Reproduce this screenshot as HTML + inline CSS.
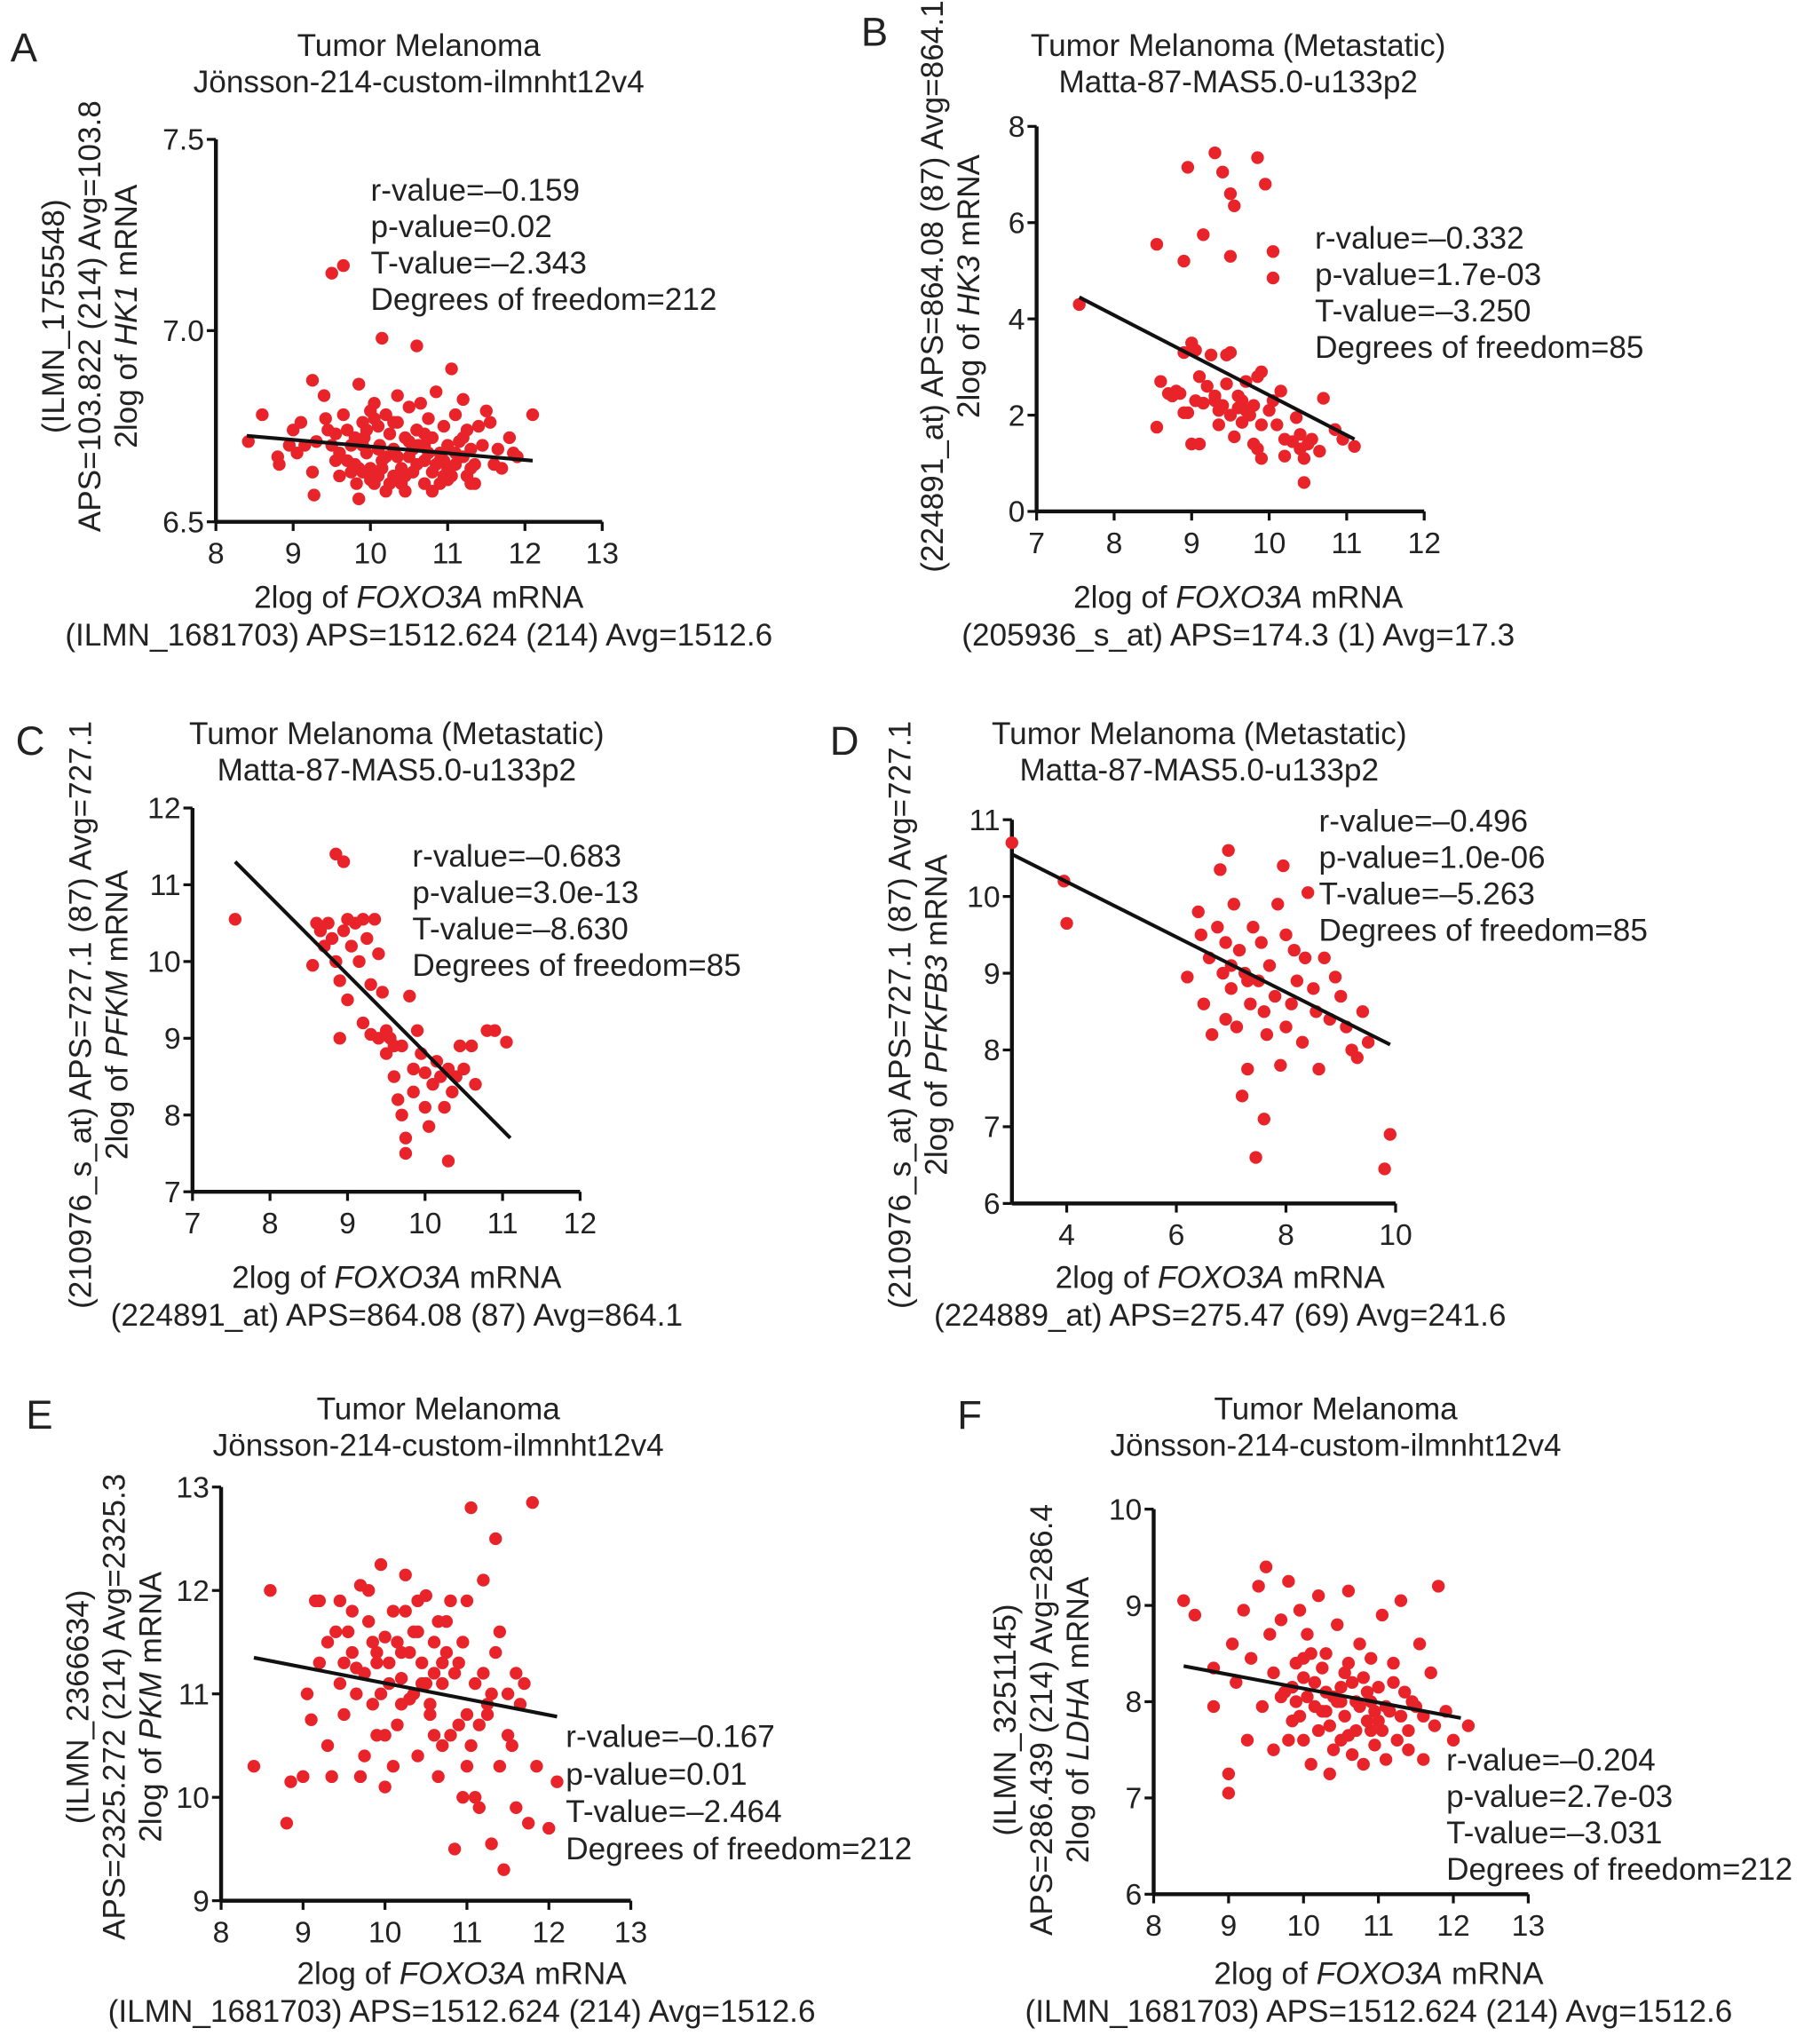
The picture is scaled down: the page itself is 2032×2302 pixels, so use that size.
<!DOCTYPE html>
<html><head><meta charset="utf-8"><style>
html,body{margin:0;padding:0;background:#fff;}
svg{display:block;font-family:"Liberation Sans",Arial,sans-serif;}
</style></head><body>
<svg id="fig" width="2032" height="2302" viewBox="0 0 1387 1571" xmlns="http://www.w3.org/2000/svg">
<rect width="1387" height="1571" fill="#fff"/>
</svg>
<script>
// ---- data ----
const aX=[8.42,8.6,8.8,8.82,9.0,9.05,9.1,9.25,9.25,9.27,9.3,9.4,9.42,9.45,9.5,9.65,9.5,9.55,9.6,9.65,9.7,9.75,9.8,9.82,9.85,9.85,9.9,9.92,9.95,10.0,10.0,10.05,10.05,10.1,10.12,10.15,10.15,10.2,10.2,10.25,10.3,10.3,10.35,10.35,10.4,10.4,10.45,10.5,10.5,10.55,10.6,10.6,10.62,10.65,10.7,10.7,10.75,10.8,10.8,10.85,10.9,10.9,10.95,11.0,11.0,11.05,11.05,11.1,11.15,11.2,11.2,11.25,11.3,11.3,11.35,11.4,11.5,11.55,11.6,11.65,11.7,11.8,11.85,11.9,12.1,9.9,10.25,10.6,10.95,10.1,10.45,9.7,10.8,11.1,9.95,10.35,10.7,11.25,9.6,9.75,9.9,10.05,10.15,10.3,10.45,10.55,10.7,10.85,11.0,11.15,11.3,11.45,9.8,10.0,10.2,10.4,10.6,10.75,10.95,11.1,11.35,9.55,9.85,10.1,10.5,10.9,11.2,8.95,9.15];
const aY=[6.71,6.78,6.67,6.65,6.74,6.68,6.76,6.87,6.63,6.57,6.71,6.83,6.77,6.74,7.15,7.17,6.7,6.66,6.62,6.78,6.74,6.7,6.65,6.6,6.86,6.56,6.76,6.72,6.68,6.79,6.64,6.81,6.6,6.75,6.7,6.98,6.66,6.58,6.78,6.73,6.62,6.69,6.83,6.76,6.64,6.6,6.72,6.8,6.67,6.63,6.96,6.74,6.7,6.81,6.6,6.66,6.77,6.72,6.63,6.84,6.68,6.6,6.75,6.64,6.7,6.9,6.62,6.78,6.67,6.82,6.72,6.62,6.6,6.69,6.65,6.75,6.79,6.76,6.65,6.69,6.64,6.72,6.68,6.67,6.78,6.63,6.6,6.65,6.66,6.62,6.58,6.66,6.58,6.68,6.74,6.67,6.7,6.74,6.68,6.63,6.7,6.77,6.64,6.76,6.62,6.69,6.73,6.65,6.61,6.71,6.64,6.7,6.72,6.61,6.67,6.63,6.74,6.68,6.62,6.65,6.6,6.73,6.64,6.69,6.71,6.66,6.67,6.7,6.7];
const aFitX=[8.4,12.1], aFitY=[6.725,6.66];
const bX=[8.55,8.9,8.95,9.15,9.3,9.4,9.5,9.55,9.5,9.85,9.95,10.05,10.05,7.55,8.55,8.6,8.7,8.75,8.85,8.9,8.9,8.95,9.0,9.0,9.05,9.05,9.1,9.1,9.15,9.2,9.25,9.3,9.35,9.35,9.4,9.45,9.45,9.5,9.5,9.55,9.6,9.65,9.65,9.7,9.7,9.75,9.8,9.8,9.85,9.85,9.9,9.9,9.9,10.0,10.05,10.1,10.15,10.2,10.2,10.3,10.35,10.4,10.4,10.45,10.45,10.5,10.55,10.65,10.7,10.85,10.95,11.1,9.6,9.3,8.8];
const bY=[5.55,5.2,7.15,5.75,7.45,7.05,6.6,6.35,5.3,7.35,6.8,5.4,4.85,4.3,1.75,2.7,2.45,2.4,2.45,3.3,2.05,2.05,3.5,1.4,3.35,2.3,1.4,2.8,2.25,2.6,3.25,2.3,2.1,1.8,2.2,2.65,3.25,3.3,2.0,1.55,2.4,2.3,1.85,2.1,2.7,2.0,1.4,2.2,2.8,1.3,1.1,2.9,1.8,2.1,2.3,1.8,2.5,1.5,1.15,1.45,1.95,1.6,1.3,1.1,0.6,1.4,1.5,1.25,2.35,1.7,1.5,1.35,2.15,2.4,2.5];
const bFitX=[7.55,11.1], bFitY=[4.45,1.5];
const cX=[7.55,8.55,8.6,8.65,8.7,8.75,8.8,8.85,8.95,8.85,8.9,8.9,8.95,9.0,9.0,9.05,9.1,9.15,9.2,9.2,9.25,9.3,9.35,9.4,9.4,9.45,9.5,9.5,9.55,9.6,9.65,9.7,9.7,9.75,9.75,9.8,9.85,9.85,9.9,9.95,10.0,10.0,10.05,10.1,10.15,10.2,10.25,10.3,10.3,10.35,10.4,10.45,10.5,10.6,10.65,10.8,10.9,11.05,9.6,9.3];
const cY=[10.55,9.95,10.5,10.4,10.2,10.5,10.3,11.4,11.3,10.0,9.75,9.0,10.4,10.55,9.5,10.2,10.5,10.0,10.55,9.2,10.3,9.7,10.55,9.0,10.1,9.6,8.8,9.1,9.0,8.5,8.2,8.0,8.9,7.5,7.7,9.55,8.6,8.3,9.1,8.8,8.1,8.55,7.85,8.4,8.7,8.5,8.1,7.4,8.6,8.3,8.5,8.9,8.6,8.9,8.4,9.1,9.1,8.95,8.9,9.05];
const cFitX=[7.55,11.1], cFitY=[11.3,7.7];
const dX=[3,3.95,4.0,6.2,6.4,6.45,6.5,6.6,6.65,6.75,6.8,6.85,6.9,6.95,7.0,7.0,7.05,7.1,7.15,7.2,7.25,7.3,7.35,7.4,7.45,7.5,7.55,7.6,7.65,7.7,7.8,7.85,7.9,7.95,8.0,8.1,8.15,8.2,8.3,8.35,8.4,8.5,8.55,8.6,8.7,8.8,8.9,9.0,9.1,9.2,9.3,9.4,9.5,9.9,9.8,7.3,6.9,8.0,7.6];
const dY=[10.7,10.2,9.65,8.95,9.8,9.5,8.6,9.2,8.2,9.6,10.35,9.0,8.4,10.6,9.1,8.8,9.9,8.3,9.3,7.4,9.0,7.75,8.6,9.6,6.6,8.9,9.4,7.1,8.2,9.1,8.7,9.9,7.8,10.4,9.5,8.6,9.3,8.9,8.1,9.2,10.05,8.8,8.5,7.75,9.2,8.4,8.95,8.7,8.3,8.0,7.9,8.5,8.1,6.9,6.45,8.9,9.4,8.3,8.5];
const dFitX=[3,9.9], dFitY=[10.55,8.07];
const eX=[8.4,8.6,8.8,8.85,9.0,9.05,9.1,9.15,9.2,9.3,9.35,9.4,9.45,9.5,9.6,9.65,9.7,9.75,9.8,9.85,9.9,9.95,10.0,10.0,10.05,10.1,10.15,10.2,10.25,10.3,10.35,10.4,10.45,10.5,10.55,10.6,10.65,10.7,10.75,10.8,10.85,10.9,10.95,11.0,11.05,11.05,11.1,11.15,11.2,11.25,11.3,11.35,11.35,11.4,11.45,11.5,11.55,11.6,11.65,11.75,11.8,11.85,12.0,12.1,9.6,9.9,10.2,10.4,10.6,10.8,11.0,9.5,10.0,10.3,10.7,11.2,9.8,10.1,10.5,10.9,11.4,9.3,9.7,11.7,10.35,10.65,11.1,9.55,9.75,9.95,10.15,10.25,10.45,10.55,10.75,10.95,11.15,11.3,11.5,9.45,9.85,10.05,10.4,10.6,10.85,11.0,11.25,9.65,10.2,10.7,11.6,9.2,9.9,10.5];
const eY=[10.3,12.0,9.75,10.15,10.2,11.0,10.75,11.9,11.3,10.5,10.2,11.6,11.9,10.8,11.4,11.0,12.05,10.4,11.7,10.9,11.3,12.25,10.1,11.55,11.1,11.8,10.7,11.4,12.15,10.95,11.6,10.4,11.3,11.95,10.8,11.5,10.2,11.1,11.7,10.6,9.5,11.3,10.0,11.9,12.8,10.5,11.1,9.9,12.1,10.8,9.55,12.5,11.4,10.3,9.3,11.0,10.5,9.9,10.9,9.75,12.85,10.3,9.7,10.15,11.8,10.6,10.9,11.9,10.6,11.9,10.3,11.3,10.6,11.4,10.5,11.2,12.0,10.3,11.1,10.7,11.6,11.5,10.2,11.1,11.0,11.7,10.0,11.6,11.2,11.0,11.5,11.8,11.1,10.9,11.4,11.5,10.7,11.0,10.6,11.1,11.5,11.3,11.6,11.2,11.2,10.8,10.9,11.25,11.15,11.3,11.2,11.9,11.4,11.1];
const eFitX=[8.4,12.1], eFitY=[11.35,10.78];
const fX=[8.4,8.55,8.8,8.8,9.0,9.0,9.05,9.1,9.2,9.25,9.3,9.4,9.45,9.5,9.55,9.6,9.7,9.75,9.8,9.85,9.9,9.95,10.0,10.05,10.1,10.15,10.2,10.25,10.3,10.35,10.4,10.45,10.5,10.55,10.6,10.65,10.7,10.75,10.8,10.85,10.9,10.95,11.0,11.05,11.1,11.15,11.2,11.25,11.3,11.35,11.4,11.5,11.55,11.6,11.7,11.75,11.8,11.9,12.0,12.2,9.6,9.9,10.1,10.3,10.5,10.7,10.9,10.2,10.6,11.0,9.8,10.4,10.0,11.2,9.85,9.95,10.05,10.15,10.25,10.35,10.45,10.55,10.65,10.75,10.85,10.95,11.05,11.3,11.45,9.7,10.3,10.6,10.8,11.1,11.6,10.0,10.5,10.9,11.4];
const fY=[9.05,8.9,8.35,7.95,7.25,7.05,8.6,8.2,8.95,7.6,8.45,9.2,7.95,9.4,8.7,7.5,8.85,8.1,9.25,7.8,8.4,8.95,7.6,8.7,7.35,8.2,9.1,7.9,8.5,7.25,8.05,8.8,7.6,8.3,9.15,7.45,8.0,8.6,7.35,7.8,8.45,7.55,8.15,8.9,7.4,7.9,8.4,7.6,9.05,8.1,7.5,7.95,8.6,7.4,8.3,7.75,9.2,7.9,7.6,7.75,8.3,8.0,8.5,8.1,8.0,7.7,8.0,7.7,8.4,7.8,7.6,7.5,8.25,8.2,8.15,7.85,8.05,7.95,8.35,7.75,8.0,7.85,8.2,7.95,8.1,7.9,7.7,7.85,8.0,8.05,7.9,7.65,8.25,7.95,7.85,8.45,8.15,7.7,7.7];
const fFitX=[8.4,12.1], fFitY=[8.37,7.83];
const aXTicks=["8","9","10","11","12","13"], aYTicks=["6.5","7.0","7.5"];
const bXTicks=["7","8","9","10","11","12"], bYTicks=["0","2","4","6","8"];
const cXTicks=["7","8","9","10","11","12"], cYTicks=["7","8","9","10","11","12"];
const dXTicks=["4","6","8","10"], dYTicks=["6","7","8","9","10","11"];
const eXTicks=["8","9","10","11","12","13"], eYTicks=["9","10","11","12","13"];
const fXTicks=["8","9","10","11","12","13"], fYTicks=["6","7","8","9","10"];

const NS="http://www.w3.org/2000/svg";
const svg=document.getElementById('fig');
function mk(tag,attrs,parent){const e=document.createElementNS(NS,tag);for(const k in attrs)e.setAttribute(k,attrs[k]);(parent||svg).appendChild(e);return e;}
function txt(parent,x,y,parts,size,anchor,rot){
  const t=mk('text',{x:x,y:y,'font-size':size,'text-anchor':anchor||'start',fill:'#222'},parent);
  if(rot)t.setAttribute('transform','rotate(-90 '+x+' '+y+')');
  parts.forEach(p=>{const s=mk('tspan',{},t);if(typeof p!=='string'){s.setAttribute('font-style','italic');s.textContent=p.i;}else s.textContent=p;});
  return t;
}
const FS=24, TS=23;
function panel(p){
  const g=mk('g',{});
  
  
  const sx=v=>p.px0+(v-p.x0)*(p.px1-p.px0)/(p.x1-p.x0);
  const sy=v=>p.py0+(v-p.y0)*(p.py1-p.py0)/(p.y1-p.y0);
  const L=txt(g,p.letter[0],p.letter[1],[p.id],31,'start');
  
  p.title.forEach((l,i)=>{const t=txt(g,p.tc,p.ty+i*28,[l],FS,'middle');});
  const ax=p.axisX, axBottom=sy(p.y0);
  const yl=mk('line',{x1:ax,y1:sy(p.y1),x2:ax,y2:axBottom,stroke:'#111','stroke-width':3},g);
  
  const xl=mk('line',{x1:ax,y1:axBottom,x2:sx(p.xTickVals[p.xTickVals.length-1]),y2:axBottom,stroke:'#111','stroke-width':3},g);
  
  p.xTicks.forEach((lab,i)=>{const v=p.xTickVals[i];
    mk('line',{x1:sx(v),y1:axBottom,x2:sx(v),y2:axBottom+7,stroke:'#111','stroke-width':2.2},g);
    const t=txt(g,sx(v),axBottom+32,[lab],TS,'middle');});
  p.yTicks.forEach((lab,i)=>{const v=p.yTickVals[i];
    mk('line',{x1:ax-7,y1:sy(v),x2:ax,y2:sy(v),stroke:'#111','stroke-width':2.2},g);
    const t=txt(g,ax-9,sy(v)+8,[lab],TS,'end');});
  p.xs.forEach((x,i)=>{const c=mk('circle',{cx:sx(x),cy:sy(p.ys[i]),r:4.9,fill:'#e8242a'},g);
    
    });
  const fl=mk('line',{x1:sx(p.fx[0]),y1:sy(p.fy[0]),x2:sx(p.fx[1]),y2:sy(p.fy[1]),stroke:'#111','stroke-width':2.8},g);
  
  p.stats.forEach((s,i)=>{const t=txt(g,p.stx,p.sty+i*p.stdy,[s],FS,'start');});
  p.xlab.forEach((l,i)=>{const t=txt(g,p.xlc,p.xly+i*29,l,FS,'middle');});
  p.ylab.forEach((l,i)=>{const t=txt(g,p.ylx[i],p.ylc,l,FS,'middle',true);});
}
const jon=["Tumor Melanoma","Jönsson-214-custom-ilmnht12v4"], mat=["Tumor Melanoma (Metastatic)","Matta-87-MAS5.0-u133p2"];
const fox=["2log of ",{i:"FOXO3A"}," mRNA"];
panel({id:'A',letter:[8,47],title:jon,tc:322,ty:43,x0:8,x1:13,px0:166,px1:463,y0:6.5,y1:7.5,py0:401,py1:107,axisX:166,
 xTicks:aXTicks,xTickVals:aXTicks.map(Number),yTicks:aYTicks,yTickVals:aYTicks.map(Number),xs:aX,ys:aY,fx:aFitX,fy:aFitY,
 stats:["r-value=\u20130.159","p-value=0.02","T-value=\u20132.343","Degrees of freedom=212"],stx:285,sty:154,stdy:28,
 xlab:[fox,["(ILMN_1681703) APS=1512.624 (214) Avg=1512.6"]],xlc:322,xly:467,
 ylab:[["(ILMN_1755548)"],["APS=103.822 (214) Avg=103.8"],["2log of ",{i:"HK1"}," mRNA"]],ylx:[49,77,105],ylc:243});
panel({id:'B',letter:[662,35],title:mat,tc:952,ty:43,x0:7,x1:12,px0:797,px1:1095,y0:0,y1:8,py0:393,py1:97,axisX:797,
 xTicks:bXTicks,xTickVals:bXTicks.map(Number),yTicks:bYTicks,yTickVals:bYTicks.map(Number),xs:bX,ys:bY,fx:bFitX,fy:bFitY,
 stats:["r-value=\u20130.332","p-value=1.7e-03","T-value=\u20133.250","Degrees of freedom=85"],stx:1011,sty:191,stdy:28,
 xlab:[fox,["(205936_s_at) APS=174.3 (1) Avg=17.3"]],xlc:952,xly:467,
 ylab:[["(224891_at) APS=864.08 (87) Avg=864.1"],["2log of ",{i:"HK3"}," mRNA"]],ylx:[725,753],ylc:220});
panel({id:'C',letter:[12,580],title:mat,tc:305,ty:572,x0:7,x1:12,px0:148,px1:446,y0:7,y1:12,py0:916,py1:621,axisX:148,
 xTicks:cXTicks,xTickVals:cXTicks.map(Number),yTicks:cYTicks,yTickVals:cYTicks.map(Number),xs:cX,ys:cY,fx:cFitX,fy:cFitY,
 stats:["r-value=\u20130.683","p-value=3.0e-13","T-value=\u20138.630","Degrees of freedom=85"],stx:317,sty:666,stdy:28,
 xlab:[fox,["(224891_at) APS=864.08 (87) Avg=864.1"]],xlc:305,xly:990,
 ylab:[["(210976_s_at) APS=727.1 (87) Avg=727.1"],["2log of ",{i:"PFKM"}," mRNA"]],ylx:[70,98],ylc:780});
panel({id:'D',letter:[638,580],title:mat,tc:922,ty:572,x0:3,x1:10,px0:778,px1:1073,y0:6,y1:11,py0:925,py1:630,axisX:778,
 xTicks:dXTicks,xTickVals:dXTicks.map(Number),yTicks:dYTicks,yTickVals:dYTicks.map(Number),xs:dX,ys:dY,fx:dFitX,fy:dFitY,
 stats:["r-value=\u20130.496","p-value=1.0e-06","T-value=\u20135.263","Degrees of freedom=85"],stx:1014,sty:639,stdy:28,
 xlab:[fox,["(224889_at) APS=275.47 (69) Avg=241.6"]],xlc:938,xly:990,
 ylab:[["(210976_s_at) APS=727.1 (87) Avg=727.1"],["2log of ",{i:"PFKFB3"}," mRNA"]],ylx:[700,728],ylc:780});
panel({id:'E',letter:[20,1098],title:jon,tc:337,ty:1091,x0:8,x1:13,px0:170,px1:485,y0:9,y1:13,py0:1461,py1:1143,axisX:170,
 xTicks:eXTicks,xTickVals:eXTicks.map(Number),yTicks:eYTicks,yTickVals:eYTicks.map(Number),xs:eX,ys:eY,fx:eFitX,fy:eFitY,
 stats:["r-value=\u20130.167","p-value=0.01","T-value=\u20132.464","Degrees of freedom=212"],stx:435,sty:1343,stdy:28.7,
 xlab:[fox,["(ILMN_1681703) APS=1512.624 (214) Avg=1512.6"]],xlc:355,xly:1525,
 ylab:[["(ILMN_2366634)"],["APS=2325.272 (214) Avg=2325.3"],["2log of ",{i:"PKM"}," mRNA"]],ylx:[68,96,124],ylc:1312});
panel({id:'F',letter:[736,1098],title:jon,tc:1027,ty:1091,x0:8,x1:13,px0:887,px1:1175,y0:6,y1:10,py0:1456,py1:1160,axisX:887,
 xTicks:fXTicks,xTickVals:fXTicks.map(Number),yTicks:fYTicks,yTickVals:fYTicks.map(Number),xs:fX,ys:fY,fx:fFitX,fy:fFitY,
 stats:["r-value=\u20130.204","p-value=2.7e-03","T-value=\u20133.031","Degrees of freedom=212"],stx:1112,sty:1361,stdy:28,
 xlab:[fox,["(ILMN_1681703) APS=1512.624 (214) Avg=1512.6"]],xlc:1060,xly:1525,
 ylab:[["(ILMN_3251145)"],["APS=286.439 (214) Avg=286.4"],["2log of ",{i:"LDHA"}," mRNA"]],ylx:[781,809,837],ylc:1322});
</script>
</body></html>
